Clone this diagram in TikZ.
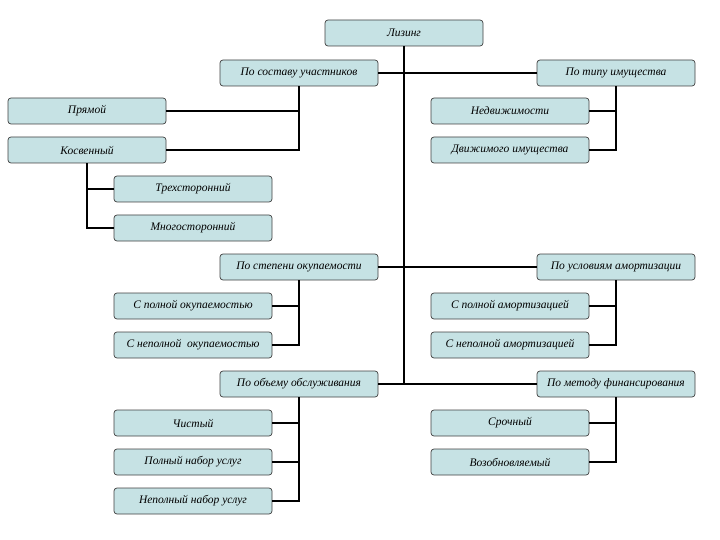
\documentclass[tikz,border=0pt]{standalone}
\usepackage{fontspec}
\setmainfont{Liberation Serif}
\begin{document}
\begin{tikzpicture}[x=1pt,y=-1pt,
  bx/.style={draw=black!75,line width=0.7pt,fill=boxfill,rounded corners=3pt,
    minimum width=158pt,minimum height=26pt,inner sep=0pt,
    font=\fontsize{11.5}{13}\selectfont\itshape},
  ln/.style={line width=2.2pt,black}]
\definecolor{boxfill}{RGB}{198,226,228}
\useasboundingbox (0,0) rectangle (720,540);
\node[bx] (lz) at (404,33) {Лизинг};
\node[bx] (ps) at (299,73) {По составу участников};
\node[bx] (pt) at (616,73) {По типу имущества};
\node[bx] (pr) at (87,111) {Прямой};
\node[bx] (ks) at (87,150) {Косвенный};
\node[bx] (nd) at (510,111) {Недвижимости};
\node[bx] (dv) at (510,150) {Движимого имущества};
\node[bx] (tr) at (193,189) {Трехсторонний};
\node[bx] (mn) at (193,228) {Многосторонний};
\node[bx] (so) at (299,267) {По степени окупаемости};
\node[bx] (ua) at (616,267) {По условиям амортизации};
\node[bx] (po) at (193,306) {С полной окупаемостью};
\node[bx] (no) at (193,345) {С неполной \ окупаемостью};
\node[bx] (pa) at (510,306) {С полной амортизацией};
\node[bx] (na) at (510,345) {С неполной амортизацией};
\node[bx] (oo) at (299,384) {По объему обслуживания};
\node[bx] (mf) at (616,384) {По методу финансирования};
\node[bx] (ch) at (193,423) {Чистый};
\node[bx] (pn) at (193,462) {Полный набор услуг};
\node[bx] (nn) at (193,501) {Неполный набор услуг};
\node[bx] (sr) at (510,423) {Срочный};
\node[bx] (vz) at (510,462) {Возобновляемый};
% trunk
\coordinate (tend) at (404,384);
\draw[ln] (lz.south) -- (tend);
\draw[ln] (ps.east) -- (pt.west);
\draw[ln] (so.east) -- (ua.west);
\draw[ln] (oo.east) -- (mf.west);
% left branches
\draw[ln] (ps.south) |- (pr.east);
\draw[ln] (ps.south) |- (ks.east);
\draw[ln] (ks.south) |- (tr.west);
\draw[ln] (ks.south) |- (mn.west);
\draw[ln] (so.south) |- (po.east);
\draw[ln] (so.south) |- (no.east);
\draw[ln] (oo.south) |- (ch.east);
\draw[ln] (oo.south) |- (pn.east);
\draw[ln] (oo.south) |- (nn.east);
% right branches
\draw[ln] (pt.south) |- (nd.east);
\draw[ln] (pt.south) |- (dv.east);
\draw[ln] (ua.south) |- (pa.east);
\draw[ln] (ua.south) |- (na.east);
\draw[ln] (mf.south) |- (sr.east);
\draw[ln] (mf.south) |- (vz.east);
\end{tikzpicture}
\end{document}
